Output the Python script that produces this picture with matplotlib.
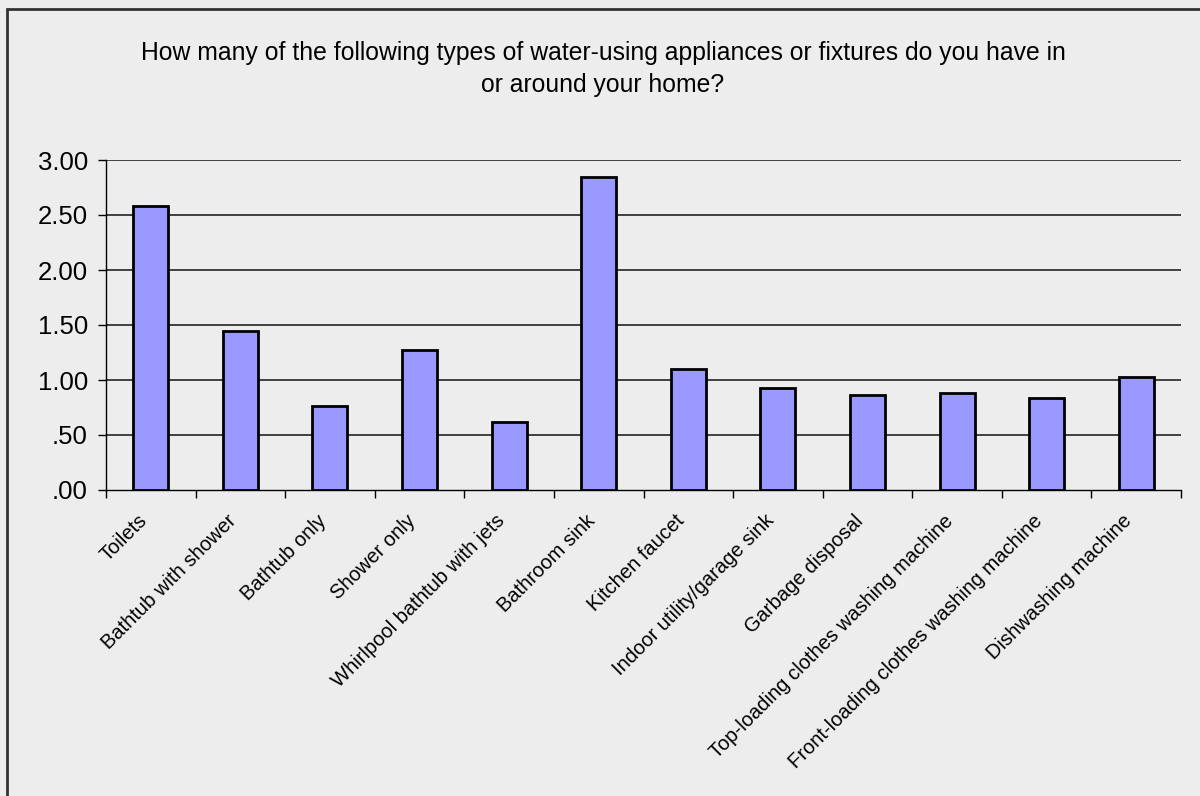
import matplotlib
matplotlib.use("Agg")
import matplotlib.pyplot as plt
from matplotlib.patches import Rectangle

categories = ["Toilets", "Bathtub with shower", "Bathtub only", "Shower only",
              "Whirlpool bathtub with jets", "Bathroom sink", "Kitchen faucet",
              "Indoor utility/garage sink", "Garbage disposal",
              "Top-loading clothes washing machine",
              "Front-loading clothes washing machine", "Dishwashing machine"]
values = [2.58, 1.45, 0.76, 1.27, 0.62, 2.85, 1.10, 0.93, 0.86, 0.88, 0.84, 1.03]
yticks = [0.0, 0.5, 1.0, 1.5, 2.0, 2.5, 3.0]
ytick_labels = [".00", ".50", "1.00", "1.50", "2.00", "2.50", "3.00"]
title = ("How many of the following types of water-using appliances or fixtures do you have in\n"
         "or around your home?")

plt.rcParams['font.family'] = ['Liberation Sans', 'DejaVu Sans']

W, H = 1200, 796
fig = plt.figure(figsize=(W/100, H/100), dpi=100)
bg = "#EDEDED"
fig.patch.set_facecolor(bg)

# outer frame (left and top visible)
fig.patches.append(Rectangle((6.5/W, -0.1), 1.2, (H-8.5)/H + 0.1, transform=fig.transFigure,
                             facecolor='none', edgecolor='#333333', linewidth=2, zorder=0))

left, right, top, bottom = 106, 1181, 160, 490
ax = fig.add_axes([left/W, 1-bottom/H, (right-left)/W, (bottom-top)/H])
ax.set_facecolor(bg)

x = list(range(len(categories)))
ax.bar(x, values, width=0.39, color="#9999FF", edgecolor="black", linewidth=2, zorder=3)

ax.set_xlim(-0.5, len(categories)-0.5)
ax.set_ylim(0, 3.0)
ax.set_yticks(yticks)
ax.set_yticklabels(ytick_labels, fontsize=18.5)
for yv in yticks[1:]:
    ax.axhline(yv, color="#333333", linewidth=1.3, zorder=1)

ax.set_xticks([i - 0.5 for i in range(len(categories)+1)])
ax.set_xticklabels([])
ax.tick_params(axis='x', direction='out', length=6, width=1, color='black')
ax.tick_params(axis='y', direction='out', length=6, width=1, color='black', pad=7)

for i, lab in enumerate(categories):
    ax.annotate(lab, xy=(i, 0), xycoords='data', xytext=(-5, -20), textcoords='offset points',
                rotation=45, rotation_mode='anchor', ha='right', va='center', fontsize=14.5)

for s in ['top', 'right']:
    ax.spines[s].set_visible(False)
ax.spines['left'].set_color('black')
ax.spines['bottom'].set_color('black')
ax.spines['left'].set_linewidth(1)
ax.spines['bottom'].set_linewidth(1)

fig.text(603/W, 1-69/H, title, ha='center', va='center', fontsize=17.8, linespacing=1.45)

fig.savefig("out.png", dpi=100, facecolor=bg)
